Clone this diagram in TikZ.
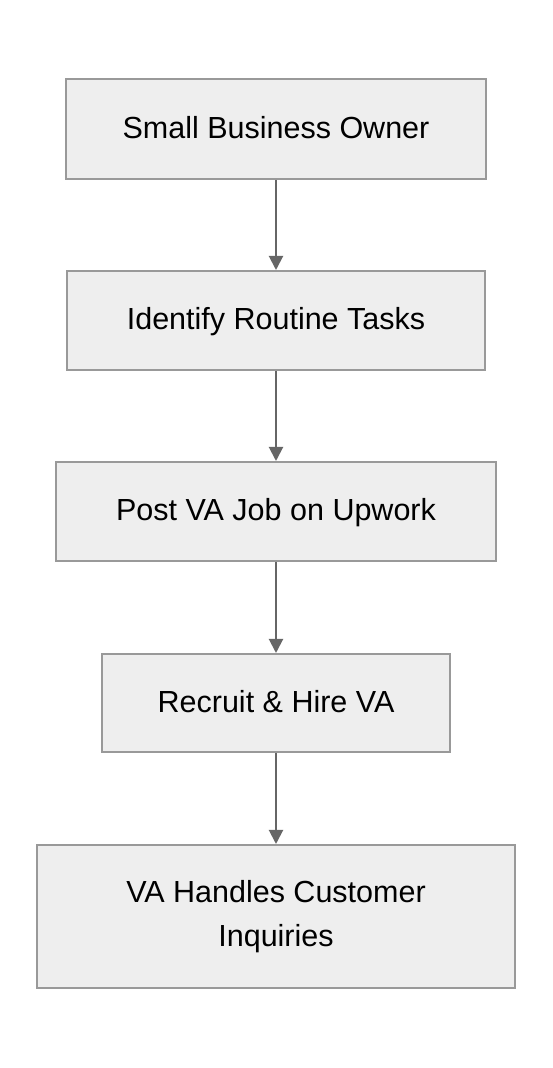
\documentclass[tikz,border=0pt]{standalone}
\usepackage{fontspec}
\setmainfont{Liberation Sans}
\usetikzlibrary{arrows.meta}
\definecolor{boxfill}{HTML}{EEEEEE}
\definecolor{boxline}{HTML}{999999}
\definecolor{arrowcol}{HTML}{666666}
\tikzset{
  flowbox/.style={draw=boxline, line width=2pt, fill=boxfill, rectangle, inner sep=0pt,
    align=center, font=\fontsize{30.5}{44}\selectfont, text=black},
  oneline/.style={text height=24pt, text depth=5.4pt},
  flowarrow/.style={draw=arrowcol, line width=2pt, -{Triangle[length=14pt,width=14pt]}}
}
\begin{document}
\begin{tikzpicture}[x=1pt,y=1pt]
\useasboundingbox (0,0) rectangle (552,1068);
\node[flowbox, oneline, minimum width=420pt, minimum height=100pt] (b1) at (276,{1068-129}) {Small Business Owner};
\node[flowbox, oneline, minimum width=418pt, minimum height=99pt] (b2) at (276,{1068-320.5}) {Identify Routine Tasks};
\node[flowbox, oneline, minimum width=440pt, minimum height=99pt] (b3) at (276,{1068-511.5}) {Post VA Job on Upwork};
\node[flowbox, oneline, minimum width=348pt, minimum height=98pt] (b4) at (276,{1068-703}) {Recruit \& Hire VA};
\node[flowbox, minimum width=478pt, minimum height=143pt] (b5) at (276,{1068-916.5}) {VA Handles Customer\\Inquiries};
\draw[flowarrow] (b1.south) -- (b2.north);
\draw[flowarrow] (b2.south) -- (b3.north);
\draw[flowarrow] (b3.south) -- (b4.north);
\draw[flowarrow] (b4.south) -- (b5.north);
\end{tikzpicture}
\end{document}
